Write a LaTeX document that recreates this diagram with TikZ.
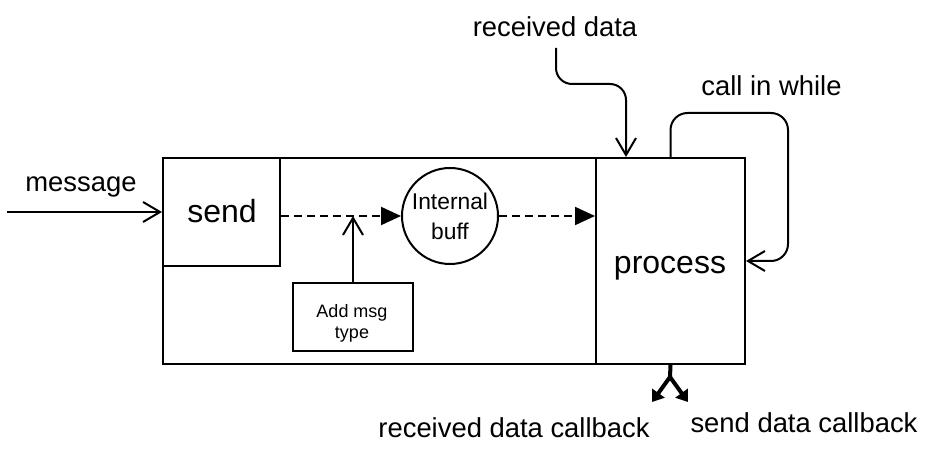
\documentclass[tikz,border=0pt]{standalone}
\usepackage{fontspec}
\setmainfont{Liberation Sans}
\usetikzlibrary{arrows.meta}
\begin{document}
\begin{tikzpicture}[x=1pt,y=-1pt,
  box/.style={draw,line width=2pt,rectangle,inner sep=0pt},
  lbl/.style={anchor=base,inner sep=0pt,font=\fontsize{27.4}{32}\selectfont},
  big/.style={anchor=base,inner sep=0pt,font=\fontsize{32}{38}\selectfont},
  conn/.style={line width=2pt,-{Straight Barb[length=17pt,width=20pt]}},
  dashconn/.style={line width=2pt,dash pattern=on 8pt off 5pt,-{Triangle[length=20pt,width=18pt]}},
  cbconn/.style={line width=4pt,-{Triangle[length=11pt,width=15pt]}}]
\useasboundingbox (0,0) rectangle (934,462);
% boxes
\node[box,minimum width=582pt,minimum height=206pt] (outer) at (454,261) {};
\node[box,minimum width=117pt,minimum height=108pt] (send) at (221.5,212) {};
\node[box,minimum width=149pt,minimum height=206pt] (process) at (670.5,261) {};
\node[draw,line width=2pt,circle,minimum size=96pt,inner sep=0pt,align=center,
      font=\fontsize{22.8}{30}\selectfont] (buff) at (450,216) {Internal\\buff};
\node[box,minimum width=120pt,minimum height=68pt] (addmsg) at (353,317) {};
% texts
\node[big] (sendtxt) at (222,223) {send};
\node[big] (proctxt) at (670,273) {process};
\node[inner sep=0pt,align=center,font=\fontsize{18}{21}\selectfont] (addtxt) at (352,323) {Add msg\\type};
\node[lbl] (msgtxt) at (81,192) {message};
\node[lbl] (rd) at (555,37) {received data};
\node[lbl] (ciw) at (771.5,95.5) {call in while};
\node[lbl] (rdcb) at (514,437) {received data callback};
\node[lbl] (sdcb) at (804,432) {send data callback};
% coordinates
\coordinate (msgstart) at (7,212);
\coordinate (rdtop) at (556,48);
\coordinate (rdbend) at (626,84);
\coordinate (loopc) at (788,113);
\coordinate (split) at (670,377);
\coordinate (cbl) at (652,402);
\coordinate (cbr) at (688,402);
% connectors
\draw[conn] (msgstart) -- (send.west |- msgstart);
\draw[dashconn] (send.east |- buff.west) -- (buff.west);
\draw[dashconn] (buff.east) -- (buff.east -| process.west);
\draw[conn] (addmsg.north) -- (addmsg.north |- buff.west);
\draw[conn,rounded corners=16pt] (rdtop) |- (rdbend) -- (rdbend |- process.north);
\draw[conn,rounded corners=17pt] (process.north) |- (loopc) |- (process.east);
\draw[line width=4pt] (process.south) -- (split);
\draw[cbconn] (split) -- (cbl);
\draw[cbconn] (split) -- (cbr);
\end{tikzpicture}
\end{document}
